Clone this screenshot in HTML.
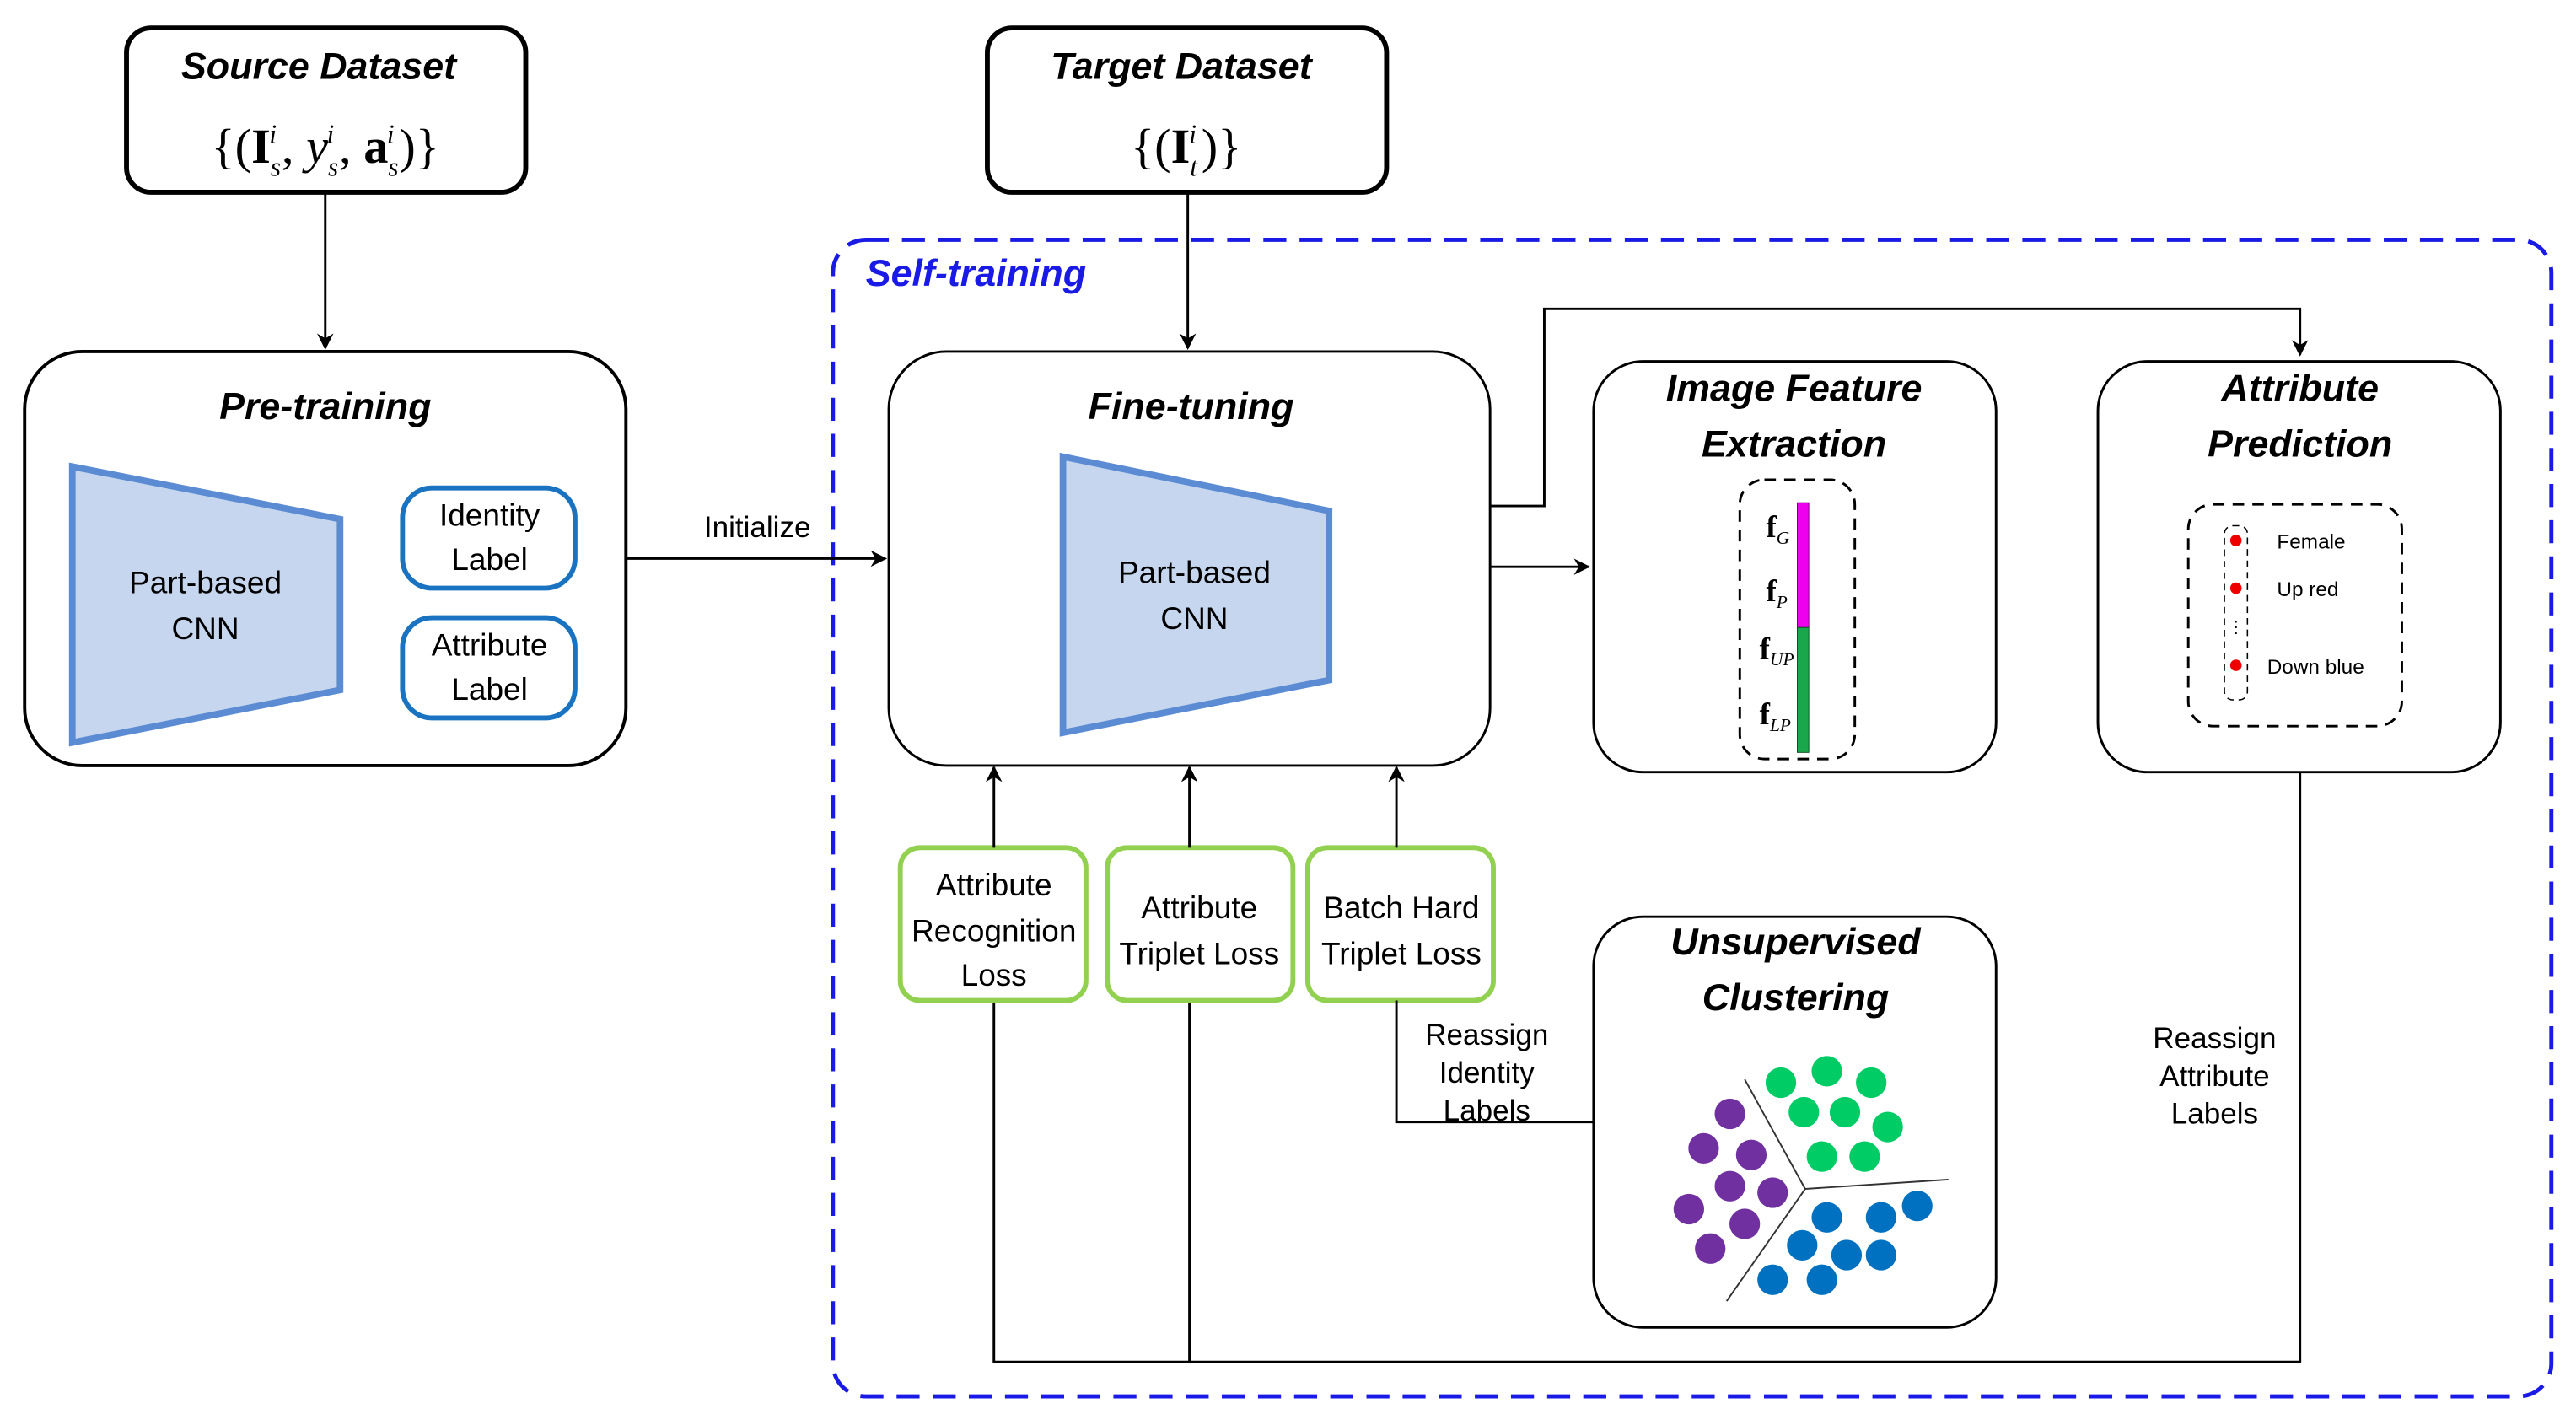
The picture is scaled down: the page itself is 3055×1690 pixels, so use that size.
<!DOCTYPE html>
<html><head><meta charset="utf-8"><style>html,body{margin:0;padding:0;background:#fff}svg{display:block}</style></head>
<body>
<svg width="3055" height="1690" viewBox="0 0 1568 867.4" xmlns="http://www.w3.org/2000/svg" font-family="'Liberation Sans', sans-serif">
<defs>
<marker id="ar" markerWidth="10" markerHeight="10" refX="9" refY="5" orient="auto" markerUnits="userSpaceOnUse"><path d="M0,0 L10,5 L0,10 L3,5 Z" fill="#000"/></marker>
</defs>
<rect width="1568" height="868" fill="#fff"/>
<rect x="507" y="146" width="1046" height="704" rx="20" fill="none" stroke="#1a1ae6" stroke-width="2.5" stroke-dasharray="14 8"/>
<text x="527" y="174" font-size="23" font-weight="bold" font-style="italic" fill="#1a1ae6">Self-training</text>

<rect x="77" y="17" width="243" height="100" rx="15" fill="#fff" stroke="#000" stroke-width="3"/>
<text x="194" y="48" font-size="23" font-weight="bold" font-style="italic" text-anchor="middle">Source Dataset</text>
<text x="198" y="99" font-size="30" text-anchor="middle" font-family="'Liberation Serif', serif">{(<tspan font-weight="bold">I</tspan><tspan font-size="16" font-style="italic" dy="8">s</tspan><tspan font-size="16" font-style="italic" dx="-7" dy="-20">i</tspan><tspan dx="3" dy="12">, </tspan><tspan font-style="italic">y</tspan><tspan font-size="16" font-style="italic" dy="8">s</tspan><tspan font-size="16" font-style="italic" dx="-7" dy="-20">i</tspan><tspan dx="3" dy="12">, </tspan><tspan font-weight="bold">a</tspan><tspan font-size="16" font-style="italic" dy="8">s</tspan><tspan font-size="16" font-style="italic" dx="-7" dy="-20">i</tspan><tspan dx="3" dy="12">)}</tspan></text>
<line x1="198" y1="117" x2="198" y2="212" stroke="#000" stroke-width="1.5" marker-end="url(#ar)"/>

<rect x="15" y="214" width="366" height="252" rx="35" fill="#fff" stroke="#000" stroke-width="2"/>
<text x="198" y="255" font-size="23" font-weight="bold" font-style="italic" text-anchor="middle">Pre-training</text>
<polygon points="44,284 207,316 207,420 44,452" fill="#c5d6ee" stroke="#5b8bd3" stroke-width="4"/>
<text x="125" y="361" font-size="19" text-anchor="middle">Part-based</text>
<text x="125" y="389" font-size="19" text-anchor="middle">CNN</text>
<rect x="245" y="297" width="105" height="61" rx="18" fill="#fff" stroke="#1a73c0" stroke-width="3"/>
<text x="298" y="320" font-size="19" text-anchor="middle">Identity</text>
<text x="298" y="347" font-size="19" text-anchor="middle">Label</text>
<rect x="245" y="376" width="105" height="61" rx="18" fill="#fff" stroke="#1a73c0" stroke-width="3"/>
<text x="298" y="399" font-size="19" text-anchor="middle">Attribute</text>
<text x="298" y="426" font-size="19" text-anchor="middle">Label</text>

<line x1="381" y1="340" x2="539" y2="340" stroke="#000" stroke-width="1.5" marker-end="url(#ar)"/>
<text x="461" y="327" font-size="18" text-anchor="middle">Initialize</text>

<rect x="601" y="17" width="243" height="100" rx="15" fill="#fff" stroke="#000" stroke-width="3"/>
<text x="719" y="48" font-size="23" font-weight="bold" font-style="italic" text-anchor="middle">Target Dataset</text>
<text x="722" y="99" font-size="30" text-anchor="middle" font-family="'Liberation Serif', serif">{(<tspan font-weight="bold">I</tspan><tspan font-size="16" font-style="italic" dy="8">t</tspan><tspan font-size="16" font-style="italic" dx="-5" dy="-20">i</tspan><tspan dx="3" dy="12">)}</tspan></text>
<line x1="723" y1="117" x2="723" y2="212" stroke="#000" stroke-width="1.5" marker-end="url(#ar)"/>

<rect x="541" y="214" width="366" height="252" rx="35" fill="#fff" stroke="#000" stroke-width="1.5"/>
<text x="725" y="255" font-size="23" font-weight="bold" font-style="italic" text-anchor="middle">Fine-tuning</text>
<polygon points="647,278 809,311 809,414 647,446" fill="#c5d6ee" stroke="#5b8bd3" stroke-width="4"/>
<text x="727" y="355" font-size="19" text-anchor="middle">Part-based</text>
<text x="727" y="383" font-size="19" text-anchor="middle">CNN</text>

<polyline points="907,308 940,308 940,188 1400,188 1400,216" fill="none" stroke="#000" stroke-width="1.5" marker-end="url(#ar)"/>
<line x1="907" y1="345" x2="967" y2="345" stroke="#000" stroke-width="1.5" marker-end="url(#ar)"/>

<rect x="970" y="220" width="245" height="250" rx="30" fill="#fff" stroke="#000" stroke-width="1.5"/>
<text x="1092" y="244" font-size="23" font-weight="bold" font-style="italic" text-anchor="middle">Image Feature</text>
<text x="1092" y="278" font-size="23" font-weight="bold" font-style="italic" text-anchor="middle">Extraction</text>
<rect x="1059" y="292" width="70" height="170" rx="15" fill="none" stroke="#000" stroke-width="1.5" stroke-dasharray="7 5"/>
<rect x="1094" y="306" width="7" height="76" fill="#ee00ee" stroke="#700070" stroke-width="0.5"/>
<rect x="1094" y="382" width="7" height="76" fill="#1aa64a" stroke="#0a5020" stroke-width="0.5"/>
<g font-family="'Liberation Serif', serif" font-size="19" font-weight="bold">
<text x="1075" y="327">f<tspan font-size="11" font-weight="normal" font-style="italic" dy="4">G</tspan></text>
<text x="1075" y="366">f<tspan font-size="11" font-weight="normal" font-style="italic" dy="4">P</tspan></text>
<text x="1071" y="401">f<tspan font-size="11" font-weight="normal" font-style="italic" dy="4">UP</tspan></text>
<text x="1071" y="441">f<tspan font-size="11" font-weight="normal" font-style="italic" dy="4">LP</tspan></text>
</g>

<rect x="1277" y="220" width="245" height="250" rx="30" fill="#fff" stroke="#000" stroke-width="1.5"/>
<text x="1400" y="244" font-size="23" font-weight="bold" font-style="italic" text-anchor="middle">Attribute</text>
<text x="1400" y="278" font-size="23" font-weight="bold" font-style="italic" text-anchor="middle">Prediction</text>
<rect x="1332" y="307" width="130" height="135" rx="15" fill="none" stroke="#000" stroke-width="1.5" stroke-dasharray="7 5"/>
<rect x="1354" y="320" width="14" height="106" rx="5" fill="none" stroke="#000" stroke-width="0.8" stroke-dasharray="4 3"/>
<circle cx="1361" cy="329" r="3.5" fill="#e00"/>
<circle cx="1361" cy="358" r="3.5" fill="#e00"/>
<circle cx="1361" cy="405" r="3.5" fill="#e00"/>
<text x="1361" y="385" font-size="10" text-anchor="middle">⋮</text>
<text x="1386" y="334" font-size="12.5">Female</text>
<text x="1386" y="363" font-size="12.5">Up red</text>
<text x="1380" y="410" font-size="12.5">Down blue</text>

<polyline points="1400,470 1400,829 605,829 605,610" fill="none" stroke="#000" stroke-width="1.5"/>
<line x1="724" y1="829" x2="724" y2="610" stroke="#000" stroke-width="1.5"/>
<text x="1348" y="638" font-size="18" text-anchor="middle">Reassign</text>
<text x="1348" y="661" font-size="18" text-anchor="middle">Attribute</text>
<text x="1348" y="684" font-size="18" text-anchor="middle">Labels</text>

<g stroke="#92d050" stroke-width="3" fill="#fff">
<rect x="548" y="516" width="113" height="93" rx="12"/>
<rect x="674" y="516" width="113" height="93" rx="12"/>
<rect x="796" y="516" width="113" height="93" rx="12"/>
</g>
<g font-size="19" text-anchor="middle">
<text x="605" y="545">Attribute</text>
<text x="605" y="573">Recognition</text>
<text x="605" y="600">Loss</text>
<text x="730" y="559">Attribute</text>
<text x="730" y="587">Triplet Loss</text>
<text x="853" y="559">Batch Hard</text>
<text x="853" y="587">Triplet Loss</text>
</g>
<line x1="605" y1="516" x2="605" y2="467" stroke="#000" stroke-width="1.5" marker-end="url(#ar)"/>
<line x1="724" y1="516" x2="724" y2="467" stroke="#000" stroke-width="1.5" marker-end="url(#ar)"/>
<line x1="850" y1="516" x2="850" y2="467" stroke="#000" stroke-width="1.5" marker-end="url(#ar)"/>

<polyline points="850,609 850,683 970,683" fill="none" stroke="#000" stroke-width="1.5"/>
<text x="905" y="636" font-size="18" text-anchor="middle">Reassign</text>
<text x="905" y="659" font-size="18" text-anchor="middle">Identity</text>
<text x="905" y="682" font-size="18" text-anchor="middle">Labels</text>

<rect x="970" y="558" width="245" height="250" rx="30" fill="#fff" stroke="#000" stroke-width="1.5"/>
<text x="1093" y="581" font-size="23" font-weight="bold" font-style="italic" text-anchor="middle">Unsupervised</text>
<text x="1093" y="615" font-size="23" font-weight="bold" font-style="italic" text-anchor="middle">Clustering</text>
<g transform="translate(6,2)">
<g stroke="#333" stroke-width="1">
<line x1="1092.8" y1="721.7" x2="1056" y2="655"/>
<line x1="1092.8" y1="721.7" x2="1180" y2="716"/>
<line x1="1092.8" y1="721.7" x2="1045" y2="790"/>
</g>
<g fill="#00cc66">
<circle cx="1078" cy="657" r="9.3"/><circle cx="1106" cy="650" r="9.3"/><circle cx="1133" cy="657" r="9.3"/>
<circle cx="1092" cy="675" r="9.3"/><circle cx="1117" cy="675" r="9.3"/><circle cx="1143" cy="684" r="9.3"/>
<circle cx="1103" cy="702" r="9.3"/><circle cx="1129" cy="702" r="9.3"/>
</g>
<g fill="#7030a0">
<circle cx="1047" cy="676" r="9.3"/><circle cx="1031" cy="697" r="9.3"/><circle cx="1060" cy="701" r="9.3"/>
<circle cx="1047" cy="720" r="9.3"/><circle cx="1073" cy="724" r="9.3"/><circle cx="1022" cy="734" r="9.3"/>
<circle cx="1056" cy="743" r="9.3"/><circle cx="1035" cy="758" r="9.3"/>
</g>
<g fill="#0070c0">
<circle cx="1106" cy="739" r="9.3"/><circle cx="1139" cy="739" r="9.3"/><circle cx="1161" cy="732" r="9.3"/>
<circle cx="1091" cy="756" r="9.3"/><circle cx="1118" cy="762" r="9.3"/><circle cx="1139" cy="762" r="9.3"/>
<circle cx="1073" cy="777" r="9.3"/><circle cx="1103" cy="777" r="9.3"/>
</g>
</g>
</svg>
</body></html>
